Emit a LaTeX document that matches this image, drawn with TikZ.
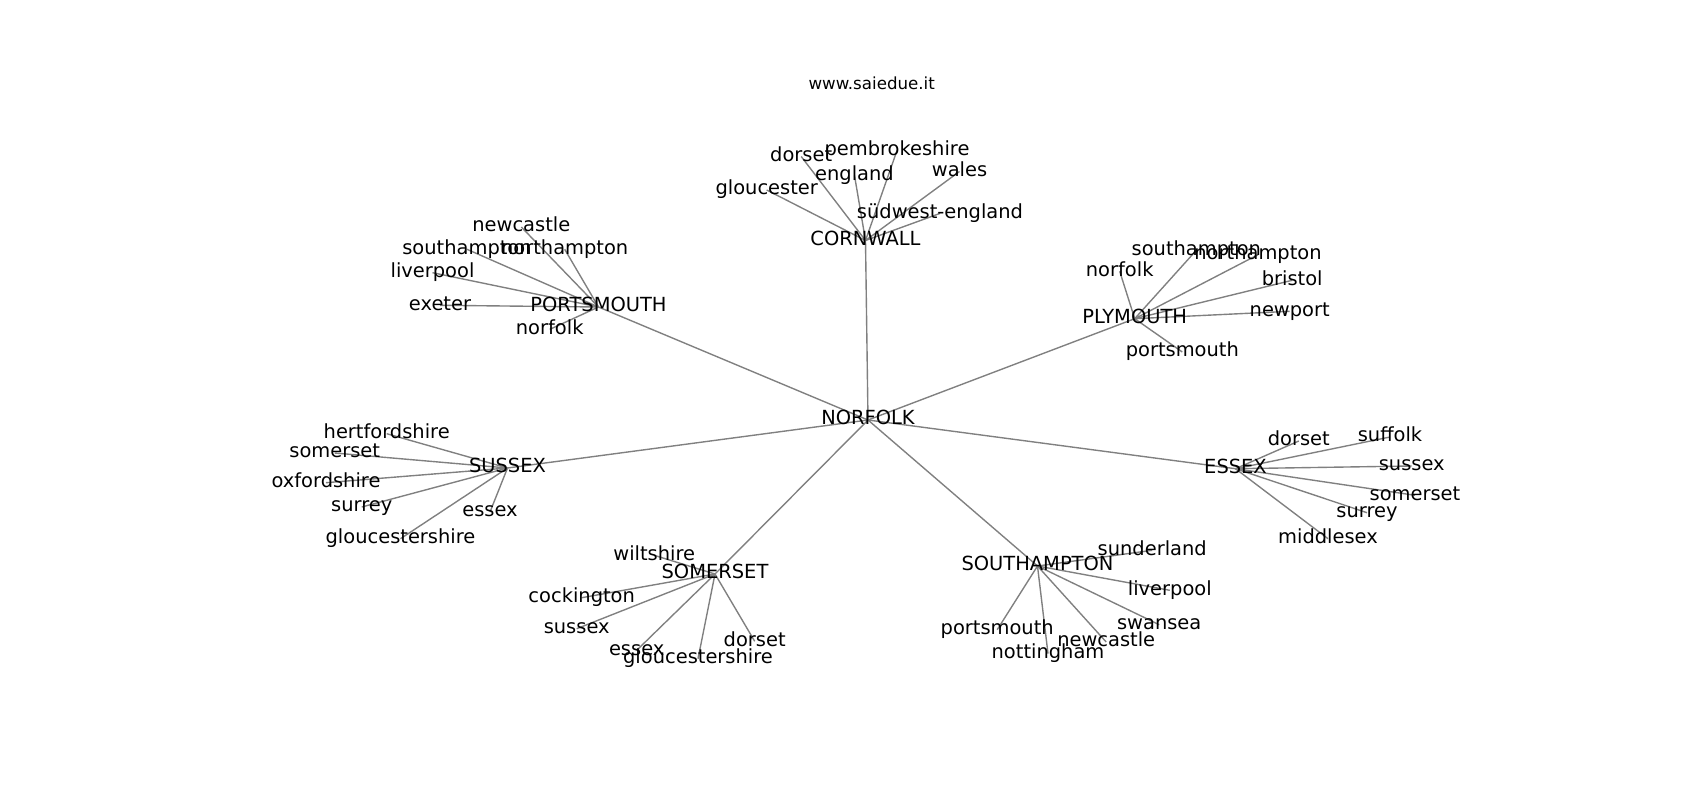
\documentclass[tikz,border=0pt]{standalone}
\usepackage{fontspec}
\setmainfont{DejaVu Sans}
\usetikzlibrary{backgrounds}
\tikzset{
  lbl/.style={inner sep=0pt, text height=0.76em, text depth=0.05em, anchor=center, font=\fontsize{14}{16}\selectfont, text=black},
  ttl/.style={inner sep=0pt, text height=0.76em, text depth=0.05em, anchor=center, font=\fontsize{12}{14}\selectfont, text=black},
  edge/.style={draw=gray, line width=1pt}
}
\begin{document}
\begin{tikzpicture}[x=0.72pt, y=-0.72pt]
\useasboundingbox (0,0) rectangle (1700,800);
\begin{scope}[shift={(0,2)}]
\node[ttl] (title) at (871.7,82.3) {www.saiedue.it};
% hubs
\node[lbl] (norfolk) at (868,418) {NORFOLK};
\node[lbl] (cornwall) at (865.5,238.5) {CORNWALL};
\node[lbl] (portsmouth) at (598.5,305) {PORTSMOUTH};
\node[lbl] (plymouth) at (1134.7,316.7) {PLYMOUTH};
\node[lbl] (sussex) at (507.5,466) {SUSSEX};
\node[lbl] (essex) at (1235.5,466.7) {ESSEX};
\node[lbl] (somerset) at (715,572) {SOMERSET};
\node[lbl] (southampton) at (1037.5,564) {SOUTHAMPTON};
% cornwall leaves
\node[lbl] (cw1) at (801.2,154.5) {dorset};
\node[lbl] (cw2) at (897,148.5) {pembrokeshire};
\node[lbl] (cw3) at (854.5,173.5) {england};
\node[lbl] (cw4) at (959.5,169.5) {wales};
\node[lbl] (cw5) at (766.7,188) {gloucester};
\node[lbl] (cw6) at (940,211.4) {südwest-england};
% portsmouth leaves
\node[lbl] (pm1) at (521.3,225) {newcastle};
\node[lbl] (pm2) at (467,247.3) {southampton};
\node[lbl] (pm3) at (564.7,247.3) {northampton};
\node[lbl] (pm4) at (432.5,270.7) {liverpool};
\node[lbl] (pm5) at (440,303.3) {exeter};
\node[lbl] (pm6) at (549.7,327.4) {norfolk};
% plymouth leaves
\node[lbl] (py1) at (1196.3,248.3) {southampton};
\node[lbl] (py2) at (1258,252.7) {northampton};
\node[lbl] (py3) at (1119.7,269.3) {norfolk};
\node[lbl] (py4) at (1292.2,278.3) {bristol};
\node[lbl] (py5) at (1289.7,309.3) {newport};
\node[lbl] (py6) at (1182.3,350) {portsmouth};
% sussex leaves
\node[lbl] (sx1) at (386.7,431.7) {hertfordshire};
\node[lbl] (sx2) at (334.7,451) {somerset};
\node[lbl] (sx3) at (326,480.7) {oxfordshire};
\node[lbl] (sx4) at (361.7,505) {surrey};
\node[lbl] (sx5) at (490,510) {essex};
\node[lbl] (sx6) at (400.5,536.7) {gloucestershire};
% essex leaves
\node[lbl] (ex1) at (1298.8,439) {dorset};
\node[lbl] (ex2) at (1390,435) {suffolk};
\node[lbl] (ex3) at (1411.7,464) {sussex};
\node[lbl] (ex4) at (1415,493.3) {somerset};
\node[lbl] (ex5) at (1367,510.7) {surrey};
\node[lbl] (ex6) at (1328,536.7) {middlesex};
% somerset leaves
\node[lbl] (sm1) at (654.2,553.3) {wiltshire};
\node[lbl] (sm2) at (581.7,595.7) {cockington};
\node[lbl] (sm3) at (576.7,626.7) {sussex};
\node[lbl] (sm4) at (636.7,648.3) {essex};
\node[lbl] (sm5) at (698,656.7) {gloucestershire};
\node[lbl] (sm6) at (754.7,639.3) {dorset};
% southampton leaves
\node[lbl] (sh1) at (1152.2,548.3) {sunderland};
\node[lbl] (sh2) at (1169.8,588.3) {liverpool};
\node[lbl] (sh3) at (1159.2,622.7) {swansea};
\node[lbl] (sh4) at (1106.2,640) {newcastle};
\node[lbl] (sh5) at (1048,651.7) {nottingham};
\node[lbl] (sh6) at (997.2,627.7) {portsmouth};
\end{scope}
\begin{scope}[on background layer]
\foreach \h in {cornwall,portsmouth,plymouth,sussex,essex,somerset,southampton}
  \draw[edge] (norfolk.center) -- (\h.center);
\foreach \l in {cw1,cw2,cw3,cw4,cw5,cw6} \draw[edge] (cornwall.center) -- (\l.center);
\foreach \l in {pm1,pm2,pm3,pm4,pm5,pm6} \draw[edge] (portsmouth.center) -- (\l.center);
\foreach \l in {py1,py2,py3,py4,py5,py6} \draw[edge] (plymouth.center) -- (\l.center);
\foreach \l in {sx1,sx2,sx3,sx4,sx5,sx6} \draw[edge] (sussex.center) -- (\l.center);
\foreach \l in {ex1,ex2,ex3,ex4,ex5,ex6} \draw[edge] (essex.center) -- (\l.center);
\foreach \l in {sm1,sm2,sm3,sm4,sm5,sm6} \draw[edge] (somerset.center) -- (\l.center);
\foreach \l in {sh1,sh2,sh3,sh4,sh5,sh6} \draw[edge] (southampton.center) -- (\l.center);
\end{scope}
\end{tikzpicture}
\end{document}
